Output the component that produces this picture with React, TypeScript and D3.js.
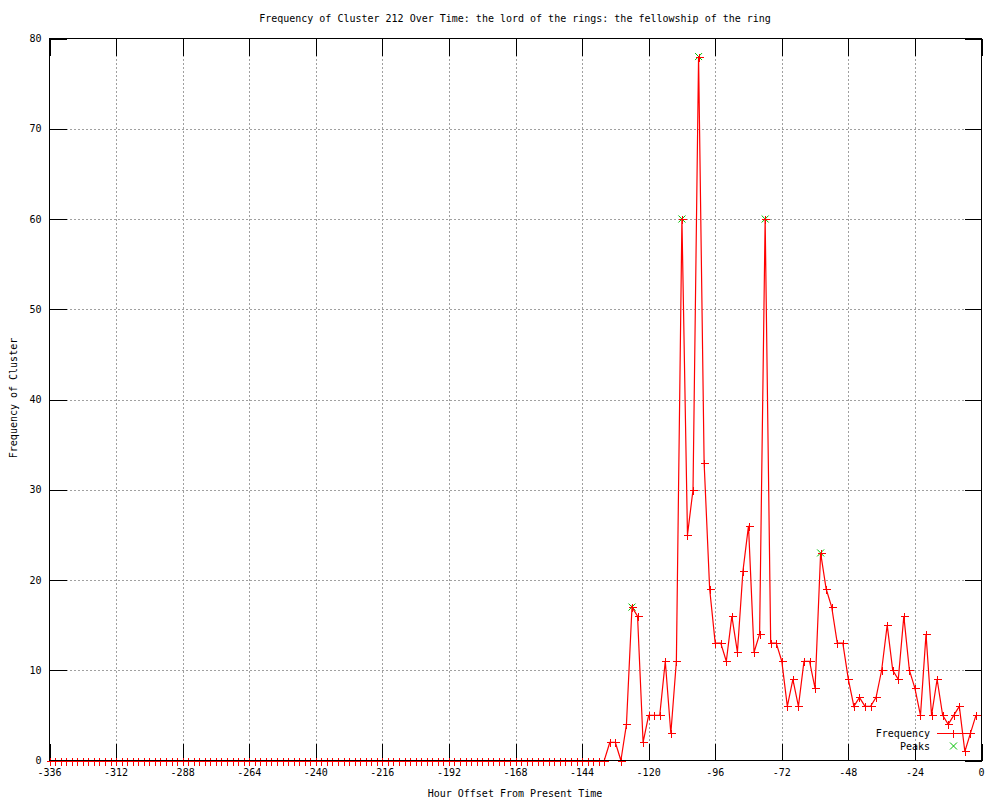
import React, { useEffect, useRef } from 'react';
import * as d3 from 'd3';

// hourly offsets, one sample every 2 hours from -336 to -2
const hours: number[] = d3.range(-336, 0, 2);

const frequency: number[] = [
  0, 0, 0, 0, 0, 0, 0, 0, 0, 0, 0, 0, 0, 0, 0, 0, 0, 0, 0, 0,
  0, 0, 0, 0, 0, 0, 0, 0, 0, 0, 0, 0, 0, 0, 0, 0, 0, 0, 0, 0,
  0, 0, 0, 0, 0, 0, 0, 0, 0, 0, 0, 0, 0, 0, 0, 0, 0, 0, 0, 0,
  0, 0, 0, 0, 0, 0, 0, 0, 0, 0, 0, 0, 0, 0, 0, 0, 0, 0, 0, 0,
  0, 0, 0, 0, 0, 0, 0, 0, 0, 0, 0, 0, 0, 0, 0, 0, 0, 0, 0, 0,
  0,
  2, 2, 0, 4, 17, 16, 2, 5, 5, 5, 11, 3, 11, 60, 25, 30, 78, 33, 19, 13,
  13, 11, 16, 12, 21, 26, 12, 14, 60, 13, 13, 11, 6, 9, 6, 11, 11, 8, 23, 19,
  17, 13, 13, 9, 6, 7, 6, 6, 7, 10, 15, 10, 9, 16, 10, 8, 5, 14, 5, 9,
  5, 4, 5, 6, 1, 3, 5,
];

const peakHours: number[] = [-126, -108, -102, -78, -58];
const peakValues: number[] = [17, 60, 78, 60, 23];

const xTicks: number[] = [-336, -312, -288, -264, -240, -216, -192, -168, -144, -120, -96, -72, -48, -24, 0];
const yTicks: number[] = [0, 10, 20, 30, 40, 50, 60, 70, 80];

const title = 'Frequency of Cluster 212 Over Time: the lord of the rings: the fellowship of the ring';
const FONT = '"DejaVu Sans Mono", monospace';

const App = () => {
  const svgRef = useRef<SVGSVGElement>(null);

  useEffect(() => {
    const svg = d3.select(svgRef.current);
    svg.selectAll('*').remove();

    const left = 49.5, right = 981.5, top = 38.5, bottom = 760.5;

    const x = d3.scaleLinear().domain([-336, 0]).range([left, right]);
    const y = d3.scaleLinear().domain([0, 80]).range([bottom, top]);

    svg.append('rect').attr('width', 1000).attr('height', 800).attr('fill', '#fff');

    // grid
    const grid = svg.append('g').attr('stroke', '#a0a0a0').attr('stroke-dasharray', '2,2')
      .attr('shape-rendering', 'crispEdges');
    xTicks.slice(1, -1).forEach((t) => {
      grid.append('line').attr('x1', Math.round(x(t)) + 0.5).attr('x2', Math.round(x(t)) + 0.5)
        .attr('y1', top).attr('y2', bottom);
    });
    yTicks.slice(1, -1).forEach((t) => {
      grid.append('line').attr('y1', Math.round(y(t)) + 0.5).attr('y2', Math.round(y(t)) + 0.5)
        .attr('x1', left).attr('x2', right);
    });

    // ticks (inward, on all four sides)
    const tk = 17;
    const ticks = svg.append('g').attr('stroke', '#000').attr('shape-rendering', 'crispEdges');
    xTicks.forEach((t) => {
      const px = Math.round(x(t)) + 0.5;
      ticks.append('line').attr('x1', px).attr('x2', px).attr('y1', bottom).attr('y2', bottom - tk);
      ticks.append('line').attr('x1', px).attr('x2', px).attr('y1', top).attr('y2', top + tk);
    });
    yTicks.forEach((t) => {
      const py = Math.round(y(t)) + 0.5;
      ticks.append('line').attr('y1', py).attr('y2', py).attr('x1', left).attr('x2', left + tk);
      ticks.append('line').attr('y1', py).attr('y2', py).attr('x1', right).attr('x2', right - tk);
    });

    // tick labels
    const labels = svg.append('g').attr('font-family', FONT).attr('font-size', 10).attr('fill', '#000');
    xTicks.forEach((t) => {
      labels.append('text').attr('x', x(t)).attr('y', bottom + 15).attr('text-anchor', 'middle').text(t);
    });
    yTicks.forEach((t) => {
      labels.append('text').attr('x', left - 8).attr('y', y(t) + 3.5).attr('text-anchor', 'end').text(t);
    });

    // titles
    labels.append('text').attr('x', 515).attr('y', 22).attr('text-anchor', 'middle').text(title);
    labels.append('text').attr('x', 515).attr('y', 797).attr('text-anchor', 'middle')
      .text('Hour Offset From Present Time');
    labels.append('text').attr('transform', 'translate(17,398) rotate(-90)').attr('text-anchor', 'middle')
      .text('Frequency of Cluster');

    // peaks (green x)
    const cross = (g: any, cx: number, cy: number, color: string) => {
      g.append('path').attr('d', `M${cx - 3.5},${cy - 3.5}L${cx + 3.5},${cy + 3.5}M${cx - 3.5},${cy + 3.5}L${cx + 3.5},${cy - 3.5}`)
        .attr('stroke', color).attr('fill', 'none');
    };
    const plus = (g: any, cx: number, cy: number, color: string) => {
      g.append('path').attr('d', `M${cx - 4},${cy}L${cx + 4},${cy}M${cx},${cy - 4}L${cx},${cy + 4}`)
        .attr('stroke', color).attr('fill', 'none').attr('shape-rendering', 'crispEdges');
    };

    const peaks = svg.append('g');
    peakHours.forEach((h, i) => cross(peaks, x(h), y(peakValues[i]), '#00c000'));

    // frequency line
    const line = d3.line<number>()
      .x((_, i) => x(hours[i]))
      .y((d) => y(d));
    svg.append('path').datum(frequency)
      .attr('fill', 'none').attr('stroke', '#ff0000').attr('stroke-width', 1.2)
      .attr('d', line);
    const pts = svg.append('g');
    frequency.forEach((v, i) => plus(pts, Math.round(x(hours[i])) + 0.5, Math.round(y(v)) + 0.5, '#ff0000'));

    // border
    svg.append('rect').attr('x', left).attr('y', top).attr('width', right - left).attr('height', bottom - top)
      .attr('fill', 'none').attr('stroke', '#000').attr('shape-rendering', 'crispEdges');

    // legend
    const lg = svg.append('g').attr('font-family', FONT).attr('font-size', 10);
    lg.append('text').attr('x', 930).attr('y', 736.5).attr('text-anchor', 'end').text('Frequency');
    lg.append('line').attr('x1', 937).attr('x2', 971).attr('y1', 733.5).attr('y2', 733.5)
      .attr('stroke', '#ff0000').attr('stroke-width', 1.2);
    plus(lg, 953.5, 733.5, '#ff0000');
    lg.append('text').attr('x', 930).attr('y', 749.5).attr('text-anchor', 'end').text('Peaks');
    cross(lg, 953.5, 746, '#00c000');
  }, []);

  return (
    <svg ref={svgRef} width={1000} height={800}
      style={{ position: 'absolute', left: 0, top: 0, display: 'block' }} />
  );
};

export default App;
